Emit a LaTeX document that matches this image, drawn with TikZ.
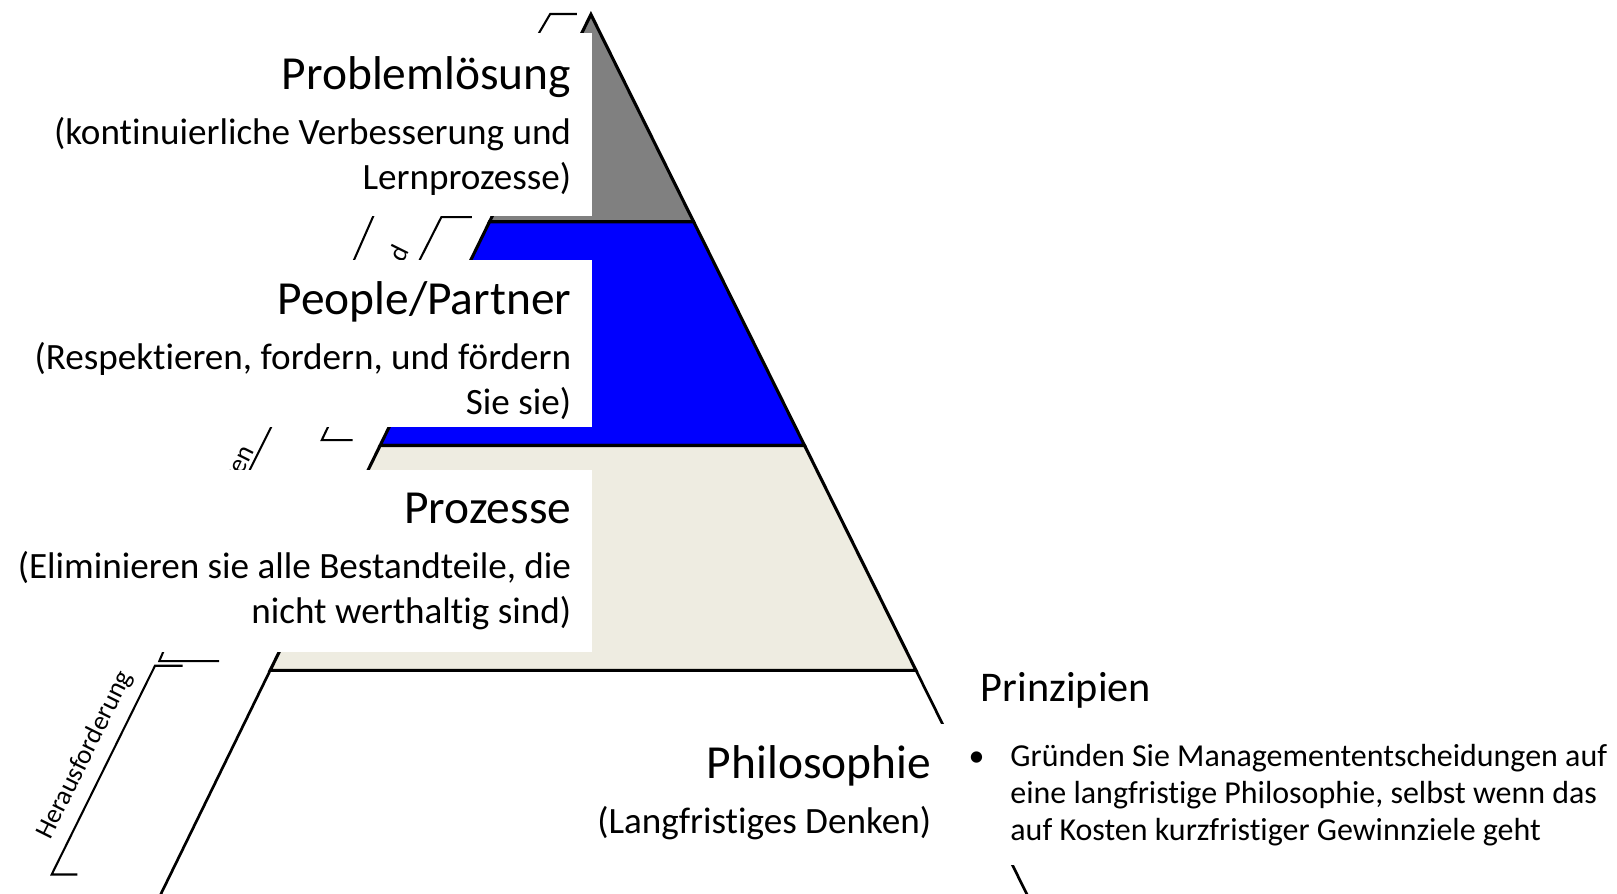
\documentclass[tikz,border=0pt]{standalone}
\usepackage{fontspec}
\setmainfont{Carlito}[Ligatures=NoCommon]
\definecolor{pgray}{HTML}{808080}
\definecolor{pblue}{HTML}{0000FF}
\definecolor{pbeige}{HTML}{EEECE1}
\begin{document}
\begin{tikzpicture}[x=1pt,y=-1pt,
  layer/.style={draw=black,line width=3pt,line join=miter},
  edgeline/.style={draw=black,line width=2.6pt},
  brk/.style={draw=black,line width=2pt},
  cover/.style={fill=white,draw=none},
  ttl/.style={font=\fontsize{46}{55}\selectfont,anchor=base east,inner sep=0pt},
  sub/.style={font=\fontsize{36}{44}\selectfont,anchor=base east,inner sep=0pt},
  prz/.style={font=\fontsize{41}{49}\selectfont,anchor=base west,inner sep=0pt},
  bul/.style={font=\fontsize{31}{36}\selectfont,anchor=base west,inner sep=0pt},
  lbl/.style={font=\fontsize{26}{31}\selectfont,inner sep=0pt,rotate=63.5}]
\useasboundingbox (0,0) rectangle (1568,866);
% pyramid layers
\filldraw[layer,fill=pgray] (573,14) -- (672.6,215) -- (474.7,215) -- cycle;
\filldraw[layer,fill=pblue] (474.7,215) -- (672.6,215) -- (780.2,432) -- (368.6,432) -- cycle;
\filldraw[layer,fill=pbeige] (368.6,432) -- (780.2,432) -- (888.2,650) -- (262,650) -- cycle;
\coordinate (bl0) at (262,650);
\coordinate (bl1) at (154.5,870);
\coordinate (br0) at (888.2,650);
\coordinate (br1) at (997.2,870);
\draw[edgeline] (bl0) -- (bl1);
\draw[edgeline] (br0) -- (br1);
% bracket fragments (partly hidden by the text boxes)
\coordinate (a1) at (559.3,13.6); \coordinate (a2) at (533.5,13.6); \coordinate (a3) at (518,40);
\draw[brk] (a1) -- (a2) -- (a3);
\coordinate (b1) at (364,205); \coordinate (b2) at (342,255);
\draw[brk] (b1) -- (b2);
\coordinate (c1) at (457.5,210.5); \coordinate (c2) at (428,210.5); \coordinate (c3) at (405,256);
\draw[brk] (c1) -- (c2) -- (c3);
\node[lbl,anchor=base east] (dlab) at (397,243) {d};
\coordinate (e1) at (265,410); \coordinate (e2) at (240,460);
\draw[brk] (e1) -- (e2);
\node[lbl,anchor=base east] (zlab) at (247,437) {zen};
\coordinate (f1) at (320,410); \coordinate (f2) at (312,426.8); \coordinate (f3) at (342,426.8);
\draw[brk] (f1) -- (f2) -- (f3);
\coordinate (g1) at (160,628); \coordinate (g2) at (154.5,641); \coordinate (g3) at (212.4,641);
\draw[brk] (g1) -- (g2) -- (g3);
\coordinate (h1) at (177,645.6); \coordinate (h2) at (150.3,645.6); \coordinate (h3) at (50.1,848); \coordinate (h4) at (75,848);
\draw[brk] (h1) -- (h2) -- (h3) -- (h4);
\node[lbl] (hlab) at (82.4,732.4) {Herausforderung};
% white text boxes
\fill[cover] (40,32.3) rectangle (574,209.5);
\fill[cover] (20,252) rectangle (574,413.8);
\fill[cover] (5,456) rectangle (574,632);
\fill[cover] (560,702) rectangle (1568,839);
% texts
\node[ttl] (t1) at (554,87) {Problemlösung};
\node[sub] (s1a) at (554,140) {(kontinuierliche Verbesserung und};
\node[sub] (s1b) at (554,184) {Lernprozesse)};
\node[ttl] (t2) at (554,305) {People/Partner};
\node[sub] (s2a) at (554,358) {(Respektieren, fordern, und fördern};
\node[sub] (s2b) at (554,402) {Sie sie)};
\node[ttl] (t3) at (554,508) {Prozesse};
\node[sub] (s3a) at (554,561) {(Eliminieren sie alle Bestandteile, die};
\node[sub] (s3b) at (554,605) {nicht werthaltig sind)};
\node[ttl] (t4) at (903,755) {Philosophie};
\node[sub] (s4) at (903,808) {(Langfristiges Denken)};
\node[prz] (p) at (951,680.6) {Prinzipien};
\node[bul,anchor=base] (dot) at (947,743.6) {\textbullet};
\node[bul] (l1) at (979.6,743.6) {Gründen Sie Managemententscheidungen auf};
\node[bul] (l2) at (979.6,779.2) {eine langfristige Philosophie, selbst wenn das};
\node[bul] (l3) at (979.6,814.7) {auf Kosten kurzfristiger Gewinnziele geht};
\end{tikzpicture}
\end{document}
